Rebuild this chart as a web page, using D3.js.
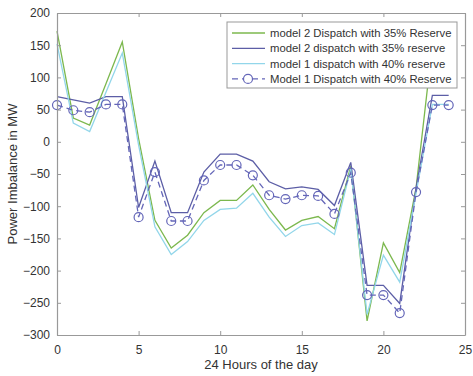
<!DOCTYPE html>
<html>
<head>
<meta charset="utf-8">
<script src="https://cdn.jsdelivr.net/npm/d3@7"></script>
<style>
  body { margin: 0; background: #fff; }
  svg { font-family: "Liberation Sans", Arial, sans-serif; }
</style>
</head>
<body>
<div id="chart"></div>
<script>
const hours = d3.range(0, 25);
const xTicks = [0, 5, 10, 15, 20, 25];
const yTicks = [200, 150, 100, 50, 0, -50, -100, -150, -200, -250, -300];

const m2Reserve = [172, 37, 26, 90, 155, 5, -122, -165, -145, -110, -91, -91, -67, -105, -137, -122, -116, -135, -38, -278, -157, -203, -72, 150, 150];
const m2reserve = [70, 65, 60, 70, 70, -102, -30, -110, -110, -47, -19, -19, -30, -62, -73, -70, -74, -99, -32, -223, -223, -251, -72, 72, 72];
const m1reserve = [152, 29, 16, 77, 138, -5, -132, -175, -155, -122, -105, -103, -80, -117, -147, -130, -126, -144, -42, -268, -176, -218, -80, 58, 58];
const m1Reserve = [57, 49, 46, 58, 58, -117, -47, -123, -123, -60, -36, -36, -52, -83, -89, -83, -84, -112, -48, -238, -238, -266, -78, 57, 57];

const series = [
  { name: "model 2 Dispatch with 35% Reserve", values: m2Reserve, color: "#7cb84e", dash: null, marker: false },
  { name: "model 2 dispatch with 35% reserve", values: m2reserve, color: "#5c5ea6", dash: null, marker: false },
  { name: "model 1 dispatch with 40% reserve", values: m1reserve, color: "#92d6ea", dash: null, marker: false },
  { name: "Model 1 Dispatch with 40% Reserve", values: m1Reserve, color: "#6466b8", dash: "6,4", marker: true }
];

const width = 473, height = 376;
const margin = { top: 13, right: 8, bottom: 41, left: 57 };
const w = width - margin.left - margin.right;
const h = height - margin.top - margin.bottom;

const svg = d3.select("#chart").append("svg")
  .attr("width", width)
  .attr("height", height);

const x = d3.scaleLinear().domain([0, 25]).range([margin.left, margin.left + w]);
const y = d3.scaleLinear().domain([-300, 200]).range([margin.top + h, margin.top]);

// series lines
const line = d3.line().x((d, i) => x(hours[i])).y(d => y(d));
const plot = svg.append("g");
series.forEach(s => {
  plot.append("path")
    .datum(s.values)
    .attr("fill", "none")
    .attr("stroke", s.color)
    .attr("stroke-width", 1.3)
    .attr("stroke-dasharray", s.dash)
    .attr("d", line);
  if (s.marker) {
    plot.selectAll(null).data(s.values).enter()
      .append("circle")
      .attr("cx", (d, i) => x(hours[i]))
      .attr("cy", d => y(d))
      .attr("r", 4.5)
      .attr("fill", "none")
      .attr("stroke", s.color)
      .attr("stroke-width", 1.2);
  }
});

// axes, matlab style box with inward ticks
const axisColor = "#999";
const axBottom = svg.append("g")
  .attr("transform", "translate(0," + (margin.top + h) + ")")
  .call(d3.axisBottom(x).tickValues(xTicks).tickSizeInner(-4).tickSizeOuter(0).tickPadding(10));
const axLeft = svg.append("g")
  .attr("transform", "translate(" + margin.left + ",0)")
  .call(d3.axisLeft(y).tickValues(yTicks).tickSizeInner(-4).tickSizeOuter(0).tickPadding(7));
const axTop = svg.append("g")
  .attr("transform", "translate(0," + margin.top + ")")
  .call(d3.axisTop(x).tickValues(xTicks).tickSizeInner(-4).tickSizeOuter(0).tickFormat(""));
const axRight = svg.append("g")
  .attr("transform", "translate(" + (margin.left + w) + ",0)")
  .call(d3.axisRight(y).tickValues(yTicks).tickSizeInner(-4).tickSizeOuter(0).tickFormat(""));

[axBottom, axLeft, axTop, axRight].forEach(a => {
  a.selectAll("path").attr("stroke", axisColor).attr("stroke-width", 1.2);
  a.selectAll("line").attr("stroke", axisColor);
  a.selectAll("text").attr("fill", "#333").style("font-size", "12px");
});

// axis labels
svg.append("text")
  .attr("x", margin.left + w / 2)
  .attr("y", height - 7)
  .attr("text-anchor", "middle")
  .attr("fill", "#333")
  .style("font-size", "13px")
  .text("24 Hours of the day");

svg.append("text")
  .attr("transform", "translate(17," + (margin.top + h / 2) + ") rotate(-90)")
  .attr("text-anchor", "middle")
  .attr("fill", "#333")
  .style("font-size", "13px")
  .text("Power Imbalance in MW");

// legend
const legend = svg.append("g").attr("transform", "translate(227,22)");
legend.append("rect")
  .attr("width", 230)
  .attr("height", 66)
  .attr("fill", "#fff")
  .attr("stroke", "#999")
  .attr("stroke-width", 1);

series.forEach((s, i) => {
  const ly = 11 + i * 15.3;
  legend.append("line")
    .attr("x1", 5).attr("x2", 38)
    .attr("y1", ly).attr("y2", ly)
    .attr("stroke", s.color)
    .attr("stroke-width", 1.3)
    .attr("stroke-dasharray", s.dash);
  if (s.marker) {
    legend.append("circle")
      .attr("cx", 21).attr("cy", ly).attr("r", 4.5)
      .attr("fill", "#fff")
      .attr("stroke", s.color)
      .attr("stroke-width", 1.2);
  }
  legend.append("text")
    .attr("x", 43)
    .attr("y", ly + 4)
    .attr("fill", "#333")
    .style("font-size", "11.3px")
    .text(s.name);
});
</script>
</body>
</html>
